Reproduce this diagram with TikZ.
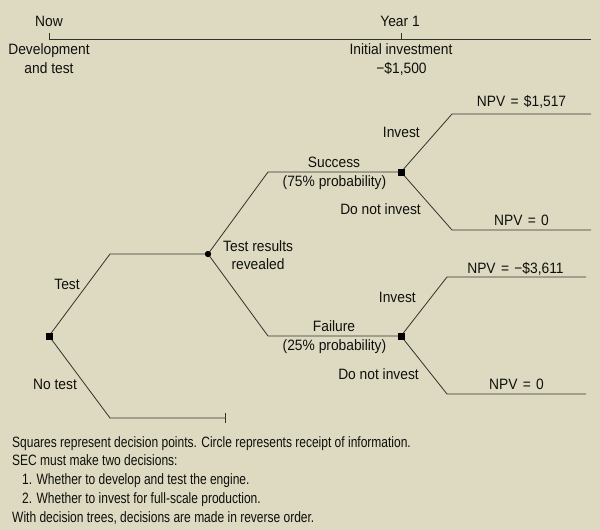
\documentclass[tikz,border=0pt]{standalone}
\usepackage{fontspec}
\setmainfont{Liberation Sans}[FakeStretch=0.92]
\newfontfamily\notefont{Liberation Sans}[FakeStretch=0.80]
\definecolor{bg}{RGB}{221,218,193}
\definecolor{ln}{RGB}{50,50,45}
\definecolor{tx}{RGB}{15,15,12}
\newcommand{\eqsign}{\ \kern1.5pt=\kern1.5pt\ }
\tikzset{
  lbl/.style={font=\fontsize{15}{18}\selectfont, text=tx, inner sep=0pt},
  note/.style={font=\notefont\fontsize{15}{18}\selectfont, text=tx, inner sep=0pt, anchor=base west},
  branch/.style={draw=ln, line width=0.8pt},
  decision/.style={draw=none, fill=black, minimum size=7pt, inner sep=0pt, rectangle},
  chance/.style={draw=none, fill=black, minimum size=6pt, inner sep=0pt, circle},
}
\begin{document}
\begin{tikzpicture}[x=1pt,y=-1pt]
\fill[bg] (0,0) rectangle (600,530);
\useasboundingbox (0,0) rectangle (600,530);

% timeline
\coordinate (tl0) at (49,39);
\coordinate (tl1) at (591,39);
\coordinate (yr) at (401,39);
\draw[branch] (tl0) -- (tl1);
\draw[branch] (tl0) -- ++(0,-6);
\draw[branch] (yr) -- ++(0,-6);
\node[lbl, anchor=base] (now) at (49,27) {Now};
\node[lbl, anchor=base] (dev1) at (49,54.5) {Development};
\node[lbl, anchor=base] (dev2) at (49,73) {and test};
\node[lbl, anchor=base] (year) at (400,27) {Year 1};
\node[lbl, anchor=base] (ii1) at (401,54.5) {Initial investment};
\node[lbl, anchor=base] (ii2) at (401.5,73) {−\$1,500};

% tree nodes
\node[decision] (root) at (49,336) {};
\node[chance] (info) at (208,254) {};
\node[decision] (ds) at (401,172) {};
\node[decision] (df) at (401,336) {};

\coordinate (tb) at (110,254);
\coordinate (nb) at (110,418);
\coordinate (ne) at (225,418);
\coordinate (sb) at (268,172);
\coordinate (fb) at (268,336);
\coordinate (sib) at (452,114);
\coordinate (sie) at (591,114);
\coordinate (snb) at (452,230);
\coordinate (sne) at (591,230);
\coordinate (fib) at (447,277);
\coordinate (fie) at (586,277);
\coordinate (fnb) at (447,394);
\coordinate (fne) at (586,394);

\draw[branch] (root.center) -- (tb) -- (info.center);
\draw[branch] (root.center) -- (nb) -- (ne);
\draw[branch] (ne) ++(0,-5) -- ++(0,10);
\draw[branch] (info.center) -- (sb) -- (ds.center);
\draw[branch] (info.center) -- (fb) -- (df.center);
\draw[branch] (ds.center) -- (sib) -- (sie);
\draw[branch] (ds.center) -- (snb) -- (sne);
\draw[branch] (df.center) -- (fib) -- (fie);
\draw[branch] (df.center) -- (fnb) -- (fne);
\node[decision] at (root) {};
\node[chance] at (info) {};
\node[decision] at (ds) {};
\node[decision] at (df) {};

% labels
\node[lbl, anchor=base] (ltest) at (67,289) {Test};
\node[lbl, anchor=base] (lnotest) at (55,389) {No test};
\node[lbl, anchor=base west] (ltr1) at (223,251) {Test results};
\node[lbl, anchor=base] (ltr2) at (258,269) {revealed};
\node[lbl, anchor=base] (lsucc) at (334,167) {Success};
\node[lbl, anchor=base] (lsp) at (334.5,186.5) {(75\% probability)};
\node[lbl, anchor=base] (lfail) at (334,331) {Failure};
\node[lbl, anchor=base] (lfp) at (334.5,350.5) {(25\% probability)};
\node[lbl, anchor=base east] (lsi) at (420,137) {Invest};
\node[lbl, anchor=base east] (lsn) at (421,214) {Do not invest};
\node[lbl, anchor=base east] (lfi) at (416,302) {Invest};
\node[lbl, anchor=base east] (lfn) at (419,379) {Do not invest};
\node[lbl, anchor=base] (npv1) at (521.5,106) {NPV\eqsign\$1,517};
\node[lbl, anchor=base] (npv2) at (521.5,225) {NPV\eqsign 0};
\node[lbl, anchor=base] (npv3) at (515.5,273) {NPV\eqsign −\$3,611};
\node[lbl, anchor=base] (npv4) at (516.5,389) {NPV\eqsign 0};

% notes
\node[note] (n1) at (12,447) {Squares represent decision points. Circle represents receipt of information.};
\node[note] (n2) at (12,465.5) {SEC must make two decisions:};
\node[note] (n3) at (22,484) {1. Whether to develop and test the engine.};
\node[note] (n4) at (22,503) {2. Whether to invest for full-scale production.};
\node[note] (n5) at (12,522) {With decision trees, decisions are made in reverse order.};
\end{tikzpicture}
\end{document}
